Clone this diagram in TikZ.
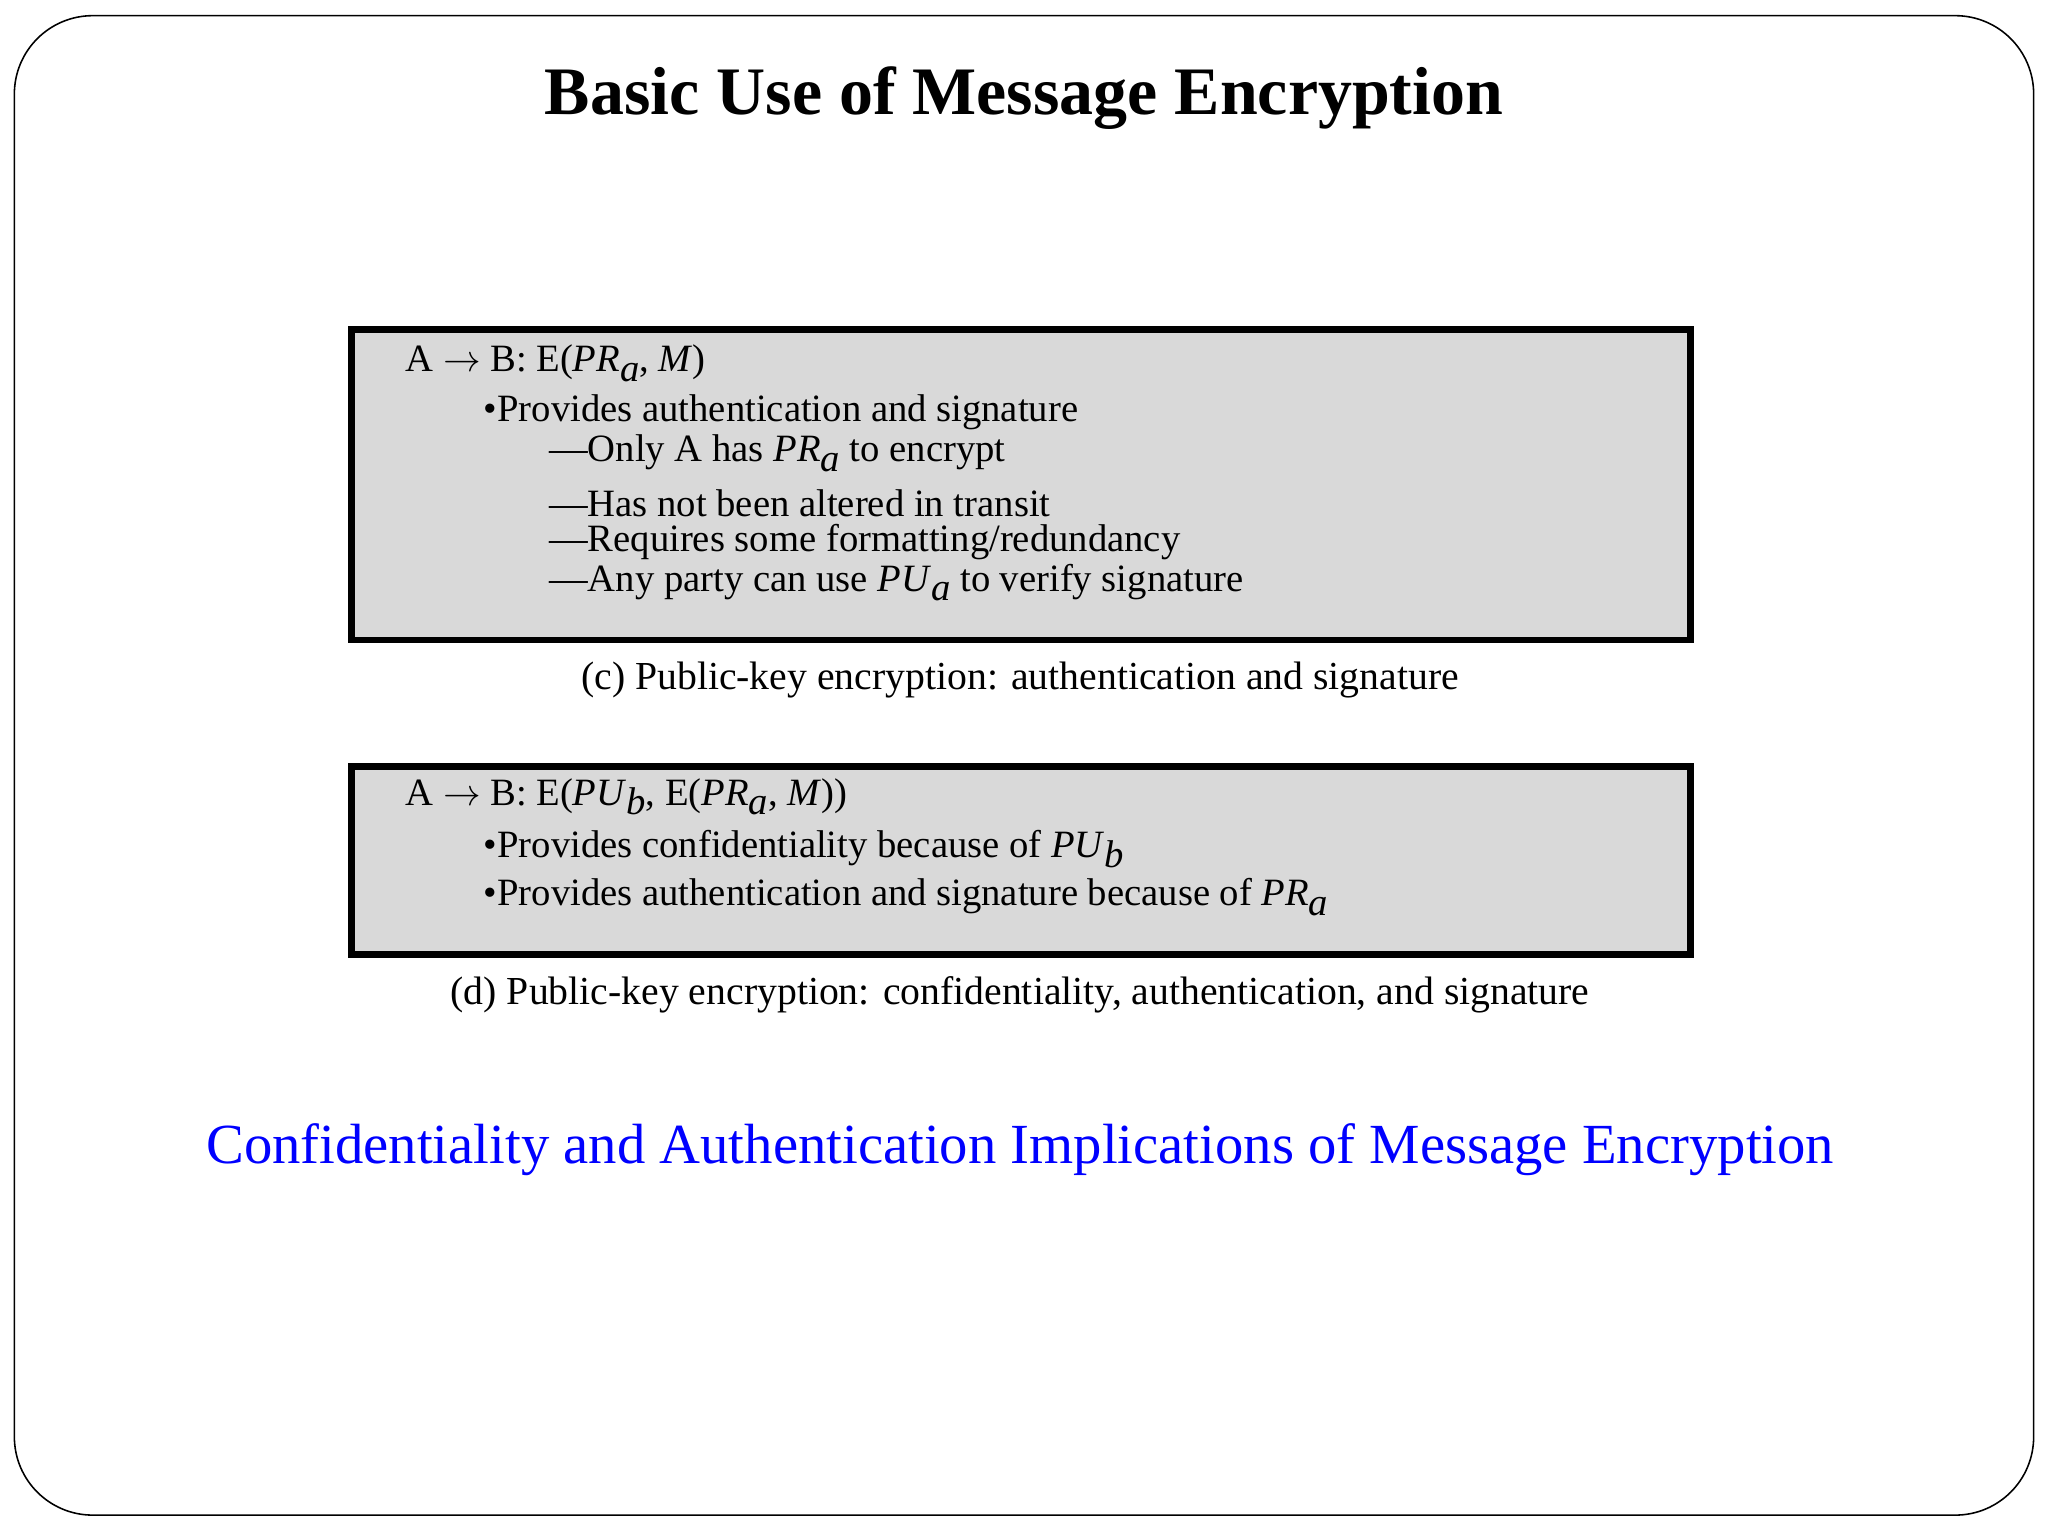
\documentclass[tikz,border=0pt]{standalone}
\usepackage{fontspec}
\setmainfont{Liberation Serif}
\newcommand{\sbs}[1]{\raisebox{-0.55ex}{\textit{#1}}}
\begin{document}
\begin{tikzpicture}[x=0.5pt,y=-0.5pt,
  txt/.style={anchor=west,inner sep=0pt,font=\fontsize{14.8}{16}\selectfont},
  captxt/.style={inner sep=0pt,font=\fontsize{15.2}{17}\selectfont},
  panel/.style={draw=black,line width=2.6pt,fill=black!15}]
\useasboundingbox (0,0) rectangle (1568,1176);
\draw[line width=0.6pt,rounded corners=30pt] (11,12) rectangle (1557,1160);
\node[inner sep=0pt,font=\fontsize{26}{28}\selectfont\bfseries] (title) at (784,75) {Basic Use of Message Encryption};
\draw[panel] (269,252) rectangle (1294,490);
\node[txt] (c0) at (310,278) {A $\rightarrow$ B: E(\textit{PR}\sbs{a}, \textit{M})};
\node[txt] (c1) at (370,316) {•Provides authentication and signature};
\node[txt] (c2) at (420,347) {—Only A has \textit{PR}\sbs{a} to encrypt};
\node[txt] (c3) at (420,385) {—Has not been altered in transit};
\node[txt] (c4) at (420,415) {—Requires some formatting/redundancy};
\node[txt] (c5) at (420,446) {—Any party can use \textit{PU}\sbs{a} to verify signature};
\node[captxt] (capc) at (781,521) {(c) Public-key encryption: authentication and signature};
\draw[panel] (269,587) rectangle (1294,731);
\node[txt] (d0) at (310,610) {A $\rightarrow$ B: E(\textit{PU}\sbs{b}, E(\textit{PR}\sbs{a}, \textit{M}))};
\node[txt] (d1) at (370,650) {•Provides confidentiality because of \textit{PU}\sbs{b}};
\node[txt] (d2) at (370,687) {•Provides authentication and signature because of \textit{PR}\sbs{a}};
\node[captxt] (capd) at (781,762) {(d) Public-key encryption: confidentiality, authentication, and signature};
\node[inner sep=0pt,text=blue,font=\fontsize{21.7}{24}\selectfont] (blue) at (781,880) {Confidentiality and Authentication Implications of Message Encryption};
\end{tikzpicture}
\end{document}
